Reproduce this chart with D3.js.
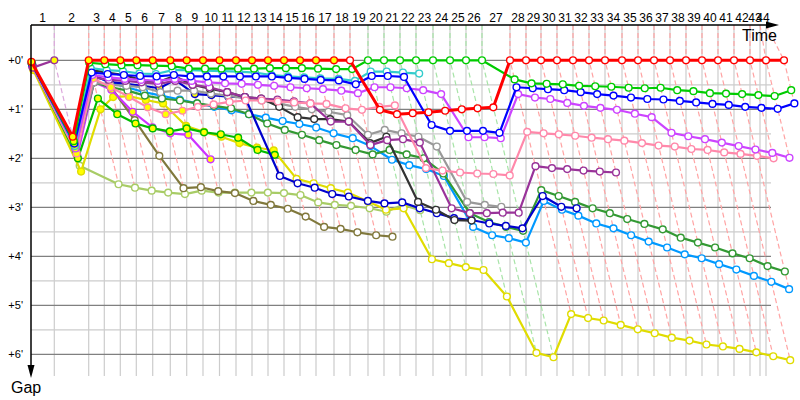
<!DOCTYPE html>
<html><head><meta charset="utf-8">
<script src="https://cdn.jsdelivr.net/npm/d3@7"></script>
<style>body{margin:0;background:#fff}svg{display:block}</style>
</head><body><svg id="c" width="800" height="400"></svg>
<script>
// leader lap-end times (minutes), index = lap (0 = start)
const lapTimes = [0,1.975,4.890,6.212,7.568,8.924,10.314,11.805,13.195,14.576,15.975,17.373,18.729,20.085,21.441,22.797,24.153,25.678,27.034,28.559,29.915,31.271,32.627,34.068,35.508,36.864,38.220,40.593,41.949,43.220,44.576,45.932,47.288,48.644,50.085,51.441,52.797,54.153,55.508,56.864,58.220,59.576,60.932,62.288,63.814];
// vertical grid positions (minutes)
const gridTimes = [0,1.975,4.890,6.212,7.568,8.924,10.314,11.805,13.195,14.576,15.975,17.373,18.729,20.085,21.441,22.797,24.153,25.678,27.034,28.559,29.915,31.271,32.627,34.068,35.508,36.864,38.220,40.593,41.949,43.220,44.576,45.932,47.288,48.644,50.085,51.441,52.797,54.153,55.508,56.864,58.220,59.576,60.932,61.780,62.288];
const lapLabels = d3.range(1,45).map(String);
const gapTicks = [0,1,2,3,4,5,6];
// leader of each lap (for lap lines), index = lap
const lapLeader = [null,"P"].concat(d3.range(2,19).map(()=>"R"), d3.range(19,27).map(()=>"G"), d3.range(27,45).map(()=>"R"));

// series gaps, index = lap, null = no point
const red = [0.03,1.56,0,0,0,0,0,0,0,0,0,0,0,0,0,0,0,0,0,1.01,1.10,1.08,1.06,1.03,1.00,0.98,0.96,0,0,0,0,0,0,0,0,0,0,0,0,0,0,0,0,0,0];
const green = [0.05,1.65,0.05,0.08,0.10,0.10,0.11,0.12,0.17,0.17,0.17,0.17,0.17,0.16,0.16,0.16,0.17,0.18,0.18,0,0,0,0,0,0,0,0,0.39,0.47,0.48,0.49,0.52,0.53,0.54,0.56,0.57,0.56,0.61,0.63,0.67,0.68,0.69,0.71,0.73,0.61];
const blue = [0.08,1.70,0.25,0.28,0.30,0.32,0.33,0.30,0.33,0.33,0.33,0.33,0.33,0.33,0.36,0.38,0.40,0.41,0.49,0.32,0.32,0.34,1.32,1.44,1.44,1.44,1.48,0.55,0.57,0.59,0.61,0.65,0.69,0.72,0.76,0.79,0.80,0.83,0.86,0.89,0.91,0.95,0.97,0.99,0.88];
const cyan = [0.05,1.75,0.16,0.20,0.22,0.27,0.28,0.20,0.20,0.21,0.22,0.23,0.25,0.30,0.33,0.35,0.37,0.38,0.42,0.23,0.23,0.25,0.27];
const violet = [0.10,1.80,0.30,0.35,0.38,0.40,0.42,0.38,0.42,0.45,0.47,0.48,0.50,0.52,0.55,0.57,0.59,0.62,0.67,0.55,0.55,0.57,0.61,0.69,1.57,1.57,1.59,0.69,0.76,0.79,0.87,0.93,0.97,1.01,1.09,1.16,1.48,1.55,1.61,1.68,1.75,1.82,1.89,1.99];
const pink = [0.12,1.90,0.37,0.55,0.75,0.96,1.10,1.03,0.95,0.90,0.85,0.82,0.82,0.84,0.86,0.88,0.89,0.98,1.01,0.95,0.92,2.20,2.25,2.29,2.31,2.32,2.35,1.46,1.49,1.51,1.54,1.58,1.61,1.64,1.69,1.74,1.76,1.81,1.83,1.88,1.91,1.95,2.00];
const purple = [0.12,1.72,0.35,0.40,0.42,0.45,0.48,0.42,0.50,0.55,0.65,0.75,0.78,0.80,0.84,0.88,1.25,1.25,1.73,1.63,1.61,1.68,3.02,3.12,3.12,3.11,3.11,2.16,2.20,2.22,2.25,2.27,2.29];
const purpleStart = [0.15,0];
const black = [0.10,1.75,0.20,0.25,0.30,0.40,0.45,0.32,0.50,0.58,0.65,0.75,0.78,0.95,1.16,1.20,1.20,1.25,1.69,1.56,2.89,3.05,3.26,3.27];
const gray = [0.10,1.80,0.45,0.50,0.52,0.55,0.65,0.62,0.62,0.68,0.72,0.78,0.82,0.88,0.95,1.00,1.05,1.12,1.52,1.42,1.49,1.56,1.76,2.89,2.95,2.99];
const navy = [0.08,1.70,0.30,0.44,0.48,0.52,0.57,0.40,0.69,0.71,0.74,0.75,2.36,2.51,2.60,2.73,2.78,2.87,2.92,2.90,3.02,3.12,3.22,3.26,3.33,3.38,3.43,2.77,2.99,3.02];
const darkGreen = [0.10,1.85,0.45,0.55,0.62,0.72,0.78,0.82,0.88,0.93,0.98,1.10,1.29,1.42,1.52,1.63,1.73,1.83,1.92,1.83,1.92,2.00,2.31,3.12,3.30,3.40,3.48,2.65,2.77,2.89,3.02,3.12,3.24,3.34,3.45,3.62,3.72,3.82,3.94,4.04,4.20,4.31];
const skyBlue = [0.10,1.80,0.30,0.45,0.55,0.65,0.72,0.80,0.88,0.95,1.02,1.10,1.17,1.24,1.30,1.37,1.49,1.59,1.75,2.03,2.14,2.22,2.36,3.40,3.57,3.63,3.72,2.87,3.05,3.17,3.33,3.43,3.57,3.70,3.82,3.96,4.04,4.16,4.27,4.40,4.52,4.67];
const olive = [0.12,1.90,0.45,0.54,1.22,1.95,2.61,2.59,2.67,2.71,2.87,2.95,3.03,3.19,3.40,3.44,3.51,3.57,3.60];
const lightOlive = [0.15,2.15,2.53,2.60,2.66,2.70,2.73,2.66,2.70,2.70,2.70,2.70,2.71,2.75,2.90,2.95,2.97,3.02,3.09,2.95,3.06];
const green2 = [0.10,2.00,0.78,1.10,1.29,1.39,1.45,1.39,1.47,1.51,1.58,1.83,1.93];
const violet2 = [0.10,1.95,0.45,0.60,1.05,1.37,1.49,1.52,2.02];
const yellow = [0.20,2.27,1.00,0.75,0.73,0.81,0.88,1.34,1.46,1.56,1.69,1.78,1.84,2.42,2.51,2.61,2.70,2.88,3.05,3.02,4.06,4.14,4.22,4.28,4.82,5.97,6.06,5.18,5.26,5.31,5.40,5.49,5.57,5.66,5.72,5.80,5.84,5.89,5.96,6.04,6.12];

// drawing order: first drawn = bottom
const seriesList = [
  {key:"lightOlive", gaps:lightOlive, color:"#a8cc66", yellowTo:-1},
  {key:"olive", gaps:olive, color:"#80783c", yellowTo:-1},
  {key:"yellow", gaps:yellow, color:"#e0dc00", yellowTo:12},
  {key:"violet2", gaps:violet2, color:"#cc33ff", yellowTo:8},
  {key:"green2", gaps:green2, color:"#00bb00", yellowTo:12},
  {key:"skyBlue", gaps:skyBlue, color:"#0099ff", yellowTo:1},
  {key:"darkGreen", gaps:darkGreen, color:"#339933", yellowTo:1},
  {key:"navy", gaps:navy, color:"#0000cc", yellowTo:11},
  {key:"gray", gaps:gray, color:"#999999", yellowTo:1},
  {key:"black", gaps:black, color:"#333333", yellowTo:1},
  {key:"purple", gaps:purple, color:"#993399", yellowTo:1},
  {key:"pink", gaps:pink, color:"#ff88aa", yellowTo:7},
  {key:"violet", gaps:violet, color:"#cc44ff", yellowTo:1},
  {key:"cyan", gaps:cyan, color:"#33cccc", yellowTo:1},
  {key:"blue", gaps:blue, color:"#0000ff", yellowTo:1},
  {key:"green", gaps:green, color:"#00cc00", yellowTo:1},
  {key:"purpleStart", gaps:purpleStart, color:"#993399", yellowTo:1},
  {key:"red", gaps:red, color:"#ff0000", yellowTo:17, wide:true}
];
const lapLineColor = {R:"#ffa4a4", G:"#a8e4a8", P:"#dca8dc"};

const svg = d3.select("#c");
const x = d3.scaleLinear().domain([0, 65]).range([31, 31 + 65*11.8]);
const y = d3.scaleLinear().domain([0, 6]).range([60.3, 354.3]);
const topY = 25, bottomY = 376, rightX = 771;

// horizontal grid
const halfTicks = d3.range(0.5, 6.5, 1);
svg.append("g").selectAll("line").data(halfTicks).join("line")
  .attr("x1", 31).attr("x2", rightX).attr("y1", d=>y(d)).attr("y2", d=>y(d))
  .attr("stroke", "#cccccc").attr("stroke-width", 1.2);
// vertical grid
svg.append("g").selectAll("line").data(gridTimes.slice(1)).join("line")
  .attr("x1", d=>x(d)).attr("x2", d=>x(d)).attr("y1", topY).attr("y2", bottomY)
  .attr("stroke", "#cccccc").attr("stroke-width", 1.2);
svg.append("g").selectAll("line").data(gapTicks).join("line")
  .attr("x1", 31).attr("x2", rightX).attr("y1", d=>y(d)).attr("y2", d=>y(d))
  .attr("stroke", "#808080").attr("stroke-width", 1.2);

// lap lines (dashed): from the top, through the leader, down to the last car on that lap
const lapIdx = d3.range(1, 45);
const lastGap = L => d3.max(seriesList, s => (s.gaps[L] == null ? undefined : s.gaps[L]));
svg.append("g").selectAll("path").data(lapIdx).join("path")
  .attr("d", L => {
    const gm = lastGap(L);
    return d3.line()([[x(gridTimes[L]), topY], [x(lapTimes[L]), y(0)], [x(lapTimes[L] + gm), y(gm)]]);
  })
  .attr("fill", "none").attr("stroke", L => lapLineColor[lapLeader[L]])
  .attr("stroke-width", 1.2).attr("stroke-dasharray", "5,3");

// lap labels
svg.append("g").selectAll("text").data(lapLabels).join("text")
  .attr("x", (d,i) => (x(gridTimes[i]) + x(gridTimes[i+1]))/2)
  .attr("y", 21.5).attr("text-anchor", "middle")
  .attr("font-family", "Liberation Sans, Arial, sans-serif").attr("font-size", 12)
  .attr("fill", "#000").text(d=>d);

// gap labels
svg.append("g").selectAll("text").data(gapTicks).join("text")
  .attr("x", 23).attr("y", d=>y(d)+4).attr("text-anchor", "end")
  .attr("font-family", "Liberation Sans, Arial, sans-serif").attr("font-size", 11)
  .attr("fill", "#000").text(d=>"+" + d + "'");

// series
const line = d3.line().x(d=>x(lapTimes[d.lap] + d.gap)).y(d=>y(d.gap));
seriesList.forEach(s => {
  const pts = s.gaps.map((g, lap) => ({lap, gap:g})).filter(d => d.gap !== null);
  const g = svg.append("g");
  g.append("path").datum(pts).attr("d", line).attr("fill", "none")
    .attr("stroke", s.color).attr("stroke-width", s.wide ? 3 : 2.2).attr("stroke-linejoin", "round");
  g.selectAll("circle").data(pts).join("circle")
    .attr("cx", d=>x(lapTimes[d.lap] + d.gap)).attr("cy", d=>y(d.gap)).attr("r", 3.4)
    .attr("fill", d => d.lap <= s.yellowTo ? "#ffff00" : "#ffffff")
    .attr("stroke", s.color).attr("stroke-width", 1.4);
});

// axes
svg.append("line").attr("x1", 31).attr("x2", 770).attr("y1", topY).attr("y2", topY).attr("stroke", "#000").attr("stroke-width", 1.5);
svg.append("path").attr("d", "M766,21.5L779,25L766,28.5Z").attr("fill", "#000");
svg.append("line").attr("x1", 31).attr("x2", 31).attr("y1", topY).attr("y2", 368).attr("stroke", "#000").attr("stroke-width", 1.5);
svg.append("path").attr("d", "M27.5,365L31,378L34.5,365Z").attr("fill", "#000");
svg.append("text").attr("x", 777).attr("y", 41).attr("text-anchor", "end")
  .attr("font-family", "Liberation Sans, Arial, sans-serif").attr("font-size", 16).text("Time");
svg.append("text").attr("x", 11).attr("y", 393)
  .attr("font-family", "Liberation Sans, Arial, sans-serif").attr("font-size", 16).text("Gap");
</script></body></html>
